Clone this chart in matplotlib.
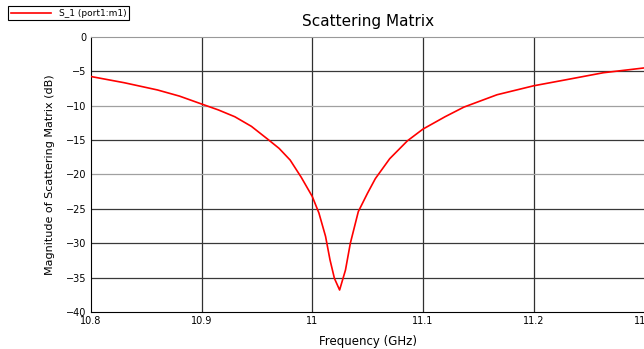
import matplotlib
matplotlib.use("Agg")
import matplotlib.pyplot as plt

# S11 magnitude sweep (GHz, dB)
freq = [10.8, 10.83, 10.86, 10.88, 10.9, 10.915, 10.93, 10.945, 10.96, 10.97, 10.98, 10.99,
        11.0, 11.006, 11.012, 11.016, 11.02, 11.0247, 11.03, 11.0344, 11.0416, 11.05,
        11.057, 11.07, 11.086, 11.1, 11.11, 11.12, 11.137, 11.167, 11.2, 11.23, 11.263, 11.3]
s11_db = [-5.75, -6.65, -7.7, -8.6, -9.75, -10.6, -11.6, -13.0, -14.9, -16.2, -17.9, -20.4,
          -23.2, -25.6, -29.0, -32.4, -35.1, -36.8, -33.9, -30.0, -25.4, -22.7,
          -20.6, -17.7, -15.1, -13.4, -12.5, -11.6, -10.2, -8.4, -7.1, -6.2, -5.2, -4.5]

xticks = [10.8, 10.9, 11.0, 11.1, 11.2, 11.3]
xlabels = ["10.8", "10.9", "11", "11.1", "11.2", "11.3"]
yticks = list(range(-40, 1, 5))

fig = plt.figure(figsize=(6.44, 3.49), dpi=100)
ax = fig.add_axes([0.1413, 0.106, 0.859, 0.788])

line, = ax.plot(freq, s11_db, color="red", lw=1.2, label="S_1 (port1:m1)", zorder=3)

ax.set_xlim(10.8, 11.3)
ax.set_ylim(-40, 0)
ax.set_xticks(xticks)
ax.set_xticklabels(xlabels)
ax.set_yticks(yticks)
ax.tick_params(length=0, labelsize=7, pad=3)

# grid: vertical lines dark, horizontal ones with the -10/-20 rows lighter
for x in xticks[1:-1]:
    ax.axvline(x, color="#303030", lw=0.9, zorder=1)
for y in yticks[1:-1]:
    c = "#a0a0a0" if y in (-10, -20) else "#383838"
    ax.axhline(y, color=c, lw=0.9, zorder=1)

for side in ["left", "bottom"]:
    ax.spines[side].set_color("black")
ax.spines["top"].set_color("#999999")
ax.spines["right"].set_visible(False)

ax.set_title("Scattering Matrix", fontsize=11, pad=8)
ax.set_xlabel("Frequency (GHz)", fontsize=8.5, labelpad=6)
ax.set_ylabel("Magnitude of Scattering Matrix (dB)", fontsize=8, labelpad=8)

leg = fig.legend(handles=[line], loc="upper left", bbox_to_anchor=(8 / 644, 1 - 6 / 349),
                 fontsize=6.5, fancybox=False, edgecolor="black", framealpha=1,
                 handlelength=4.5, borderpad=0.3, borderaxespad=0)
leg.get_frame().set_linewidth(0.8)

fig.savefig("out.png", dpi=100)
